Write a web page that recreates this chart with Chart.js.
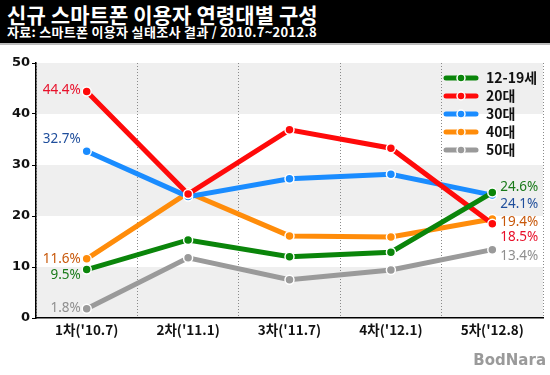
<!DOCTYPE html>
<html><head><meta charset="utf-8">
<script src="https://cdn.jsdelivr.net/npm/chart.js@4/dist/chart.umd.min.js"></script>
<style>
html,body{margin:0;padding:0;background:#fff;width:550px;height:375px;overflow:hidden;font-family:"Noto Sans CJK KR","Noto Sans",sans-serif;}
#hdr{position:absolute;left:0;top:0;width:550px;height:43px;background:#000;border-bottom:2px solid #bbb;}
#t1{position:absolute;left:7px;top:0px;color:#fff;font-weight:bold;font-size:21px;line-height:28px;letter-spacing:0.1px;}
#t2{position:absolute;left:7px;top:24px;color:#fff;font-weight:bold;font-size:13px;line-height:16px;letter-spacing:0.3px;}
#wrap{position:absolute;left:0;top:45px;width:550px;height:330px;}
#wm{position:absolute;right:4px;top:351px;color:#9a9a9a;font-family:"DejaVu Sans",sans-serif;font-weight:bold;font-size:15px;}
</style></head><body>
<div id="hdr"><div id="t1">신규 스마트폰 이용자 연령대별 구성</div><div id="t2">자료: 스마트폰 이용자 실태조사 결과 / 2010.7~2012.8</div></div>
<div id="wrap"><canvas id="c" width="550" height="330"></canvas></div>
<div id="wm">BodNara</div>
<script>
const categories = ["1차('10.7)", "2차('11.1)", "3차('11.7)", "4차('12.1)", "5차('12.8)"];
const seriesNames = ["12-19세", "20대", "30대", "40대", "50대"];
const teen = [9.5, 15.3, 12.0, 12.9, 24.6];
const twenties = [44.4, 24.3, 36.9, 33.3, 18.5];
const thirties = [32.7, 23.8, 27.3, 28.2, 24.1];
const forties = [11.6, 24.6, 16.1, 15.9, 19.4];
const fifties = [1.8, 11.8, 7.5, 9.4, 13.4];
const yTicks = [0, 10, 20, 30, 40, 50];

const lineColors = ["#0a850a", "#ff0a0a", "#1a8cff", "#ff8c0a", "#9a9a9a"];
const textColors = ["#1a7a1a", "#e8102a", "#1f4e9c", "#c8580a", "#8f8f8f"];
const allData = [teen, twenties, thirties, forties, fifties];
const leftDy = [5.5, -1.5, -12, 0, -1];
const rightDy = [-5.5, 14, 9, 3, 6];

const bands = {
  id: 'bands',
  beforeDraw(chart) {
    const {ctx, chartArea: a, scales: {y}} = chart;
    ctx.save();
    for (let i = 0; i < yTicks.length - 1; i++) {
      if (i % 2 === 0) {
        const top = y.getPixelForValue(yTicks[i + 1]);
        const bot = y.getPixelForValue(yTicks[i]);
        ctx.fillStyle = '#efefef';
        ctx.fillRect(a.left, top, a.right - a.left, bot - top);
      }
    }
    ctx.restore();
  }
};

const labelsPlugin = {
  id: 'vlabels',
  afterDatasetsDraw(chart) {
    const ctx = chart.ctx;
    ctx.save();
    ctx.font = '13.5px "Noto Sans", sans-serif';
    ctx.textBaseline = 'middle';
    chart.data.datasets.forEach((ds, i) => {
      const meta = chart.getDatasetMeta(i);
      const p0 = meta.data[0], pn = meta.data[meta.data.length - 1];
      ctx.fillStyle = textColors[i];
      ctx.textAlign = 'right';
      ctx.fillText(ds.data[0].toFixed(1) + '%', p0.x - 6, p0.y + leftDy[i]);
      ctx.textAlign = 'left';
      ctx.fillText(ds.data[ds.data.length - 1].toFixed(1) + '%', pn.x + 8, pn.y + rightDy[i]);
    });
    ctx.restore();
  }
};

const legendPlugin = {
  id: 'mylegend',
  afterDraw(chart) {
    const {ctx, chartArea: a} = chart;
    ctx.save();
    const x0 = a.right - 97, y0 = a.top + 15;
    seriesNames.forEach((n, i) => {
      const yy = y0 + i * 18;
      ctx.strokeStyle = lineColors[i];
      ctx.lineWidth = 5;
      ctx.lineCap = 'round';
      ctx.beginPath(); ctx.moveTo(x0, yy); ctx.lineTo(x0 + 30, yy); ctx.stroke();
      ctx.beginPath(); ctx.arc(x0 + 15, yy, 4, 0, Math.PI * 2);
      ctx.fillStyle = lineColors[i]; ctx.fill();
      ctx.lineWidth = 1.5; ctx.strokeStyle = '#fff'; ctx.stroke();
      ctx.fillStyle = '#111';
      ctx.font = 'bold 14px "Noto Sans CJK KR", sans-serif';
      ctx.textBaseline = 'middle'; ctx.textAlign = 'left';
      ctx.fillText(n, x0 + 40, yy);
    });
    ctx.restore();
  }
};

new Chart(document.getElementById('c'), {
  type: 'line',
  data: {
    labels: categories,
    datasets: allData.map((d, i) => ({
      label: seriesNames[i],
      data: d,
      borderColor: lineColors[i],
      backgroundColor: lineColors[i],
      borderWidth: 5,
      pointRadius: 4.5,
      pointBorderColor: '#fff',
      pointBorderWidth: 1.5,
      pointBackgroundColor: lineColors[i],
      tension: 0
    }))
  },
  options: {
    responsive: false,
    animation: false,
    devicePixelRatio: 1,
    layout: {padding: {left: 0, right: 7, top: 18, bottom: 0}},
    plugins: {legend: {display: false}, tooltip: {enabled: false}},
    scales: {
      x: {
        offset: true,
        grid: {display: true, offset: true, drawTicks: false, color: '#8a8a8a', lineWidth: 1},
        border: {display: true, color: '#000', width: 1.5, dash: [1, 2]},
        ticks: {color: '#111', font: {family: '"Noto Sans CJK KR", sans-serif', weight: 'bold', size: 13.5}, padding: 4},
        afterFit(s) { s.height = 57; }
      },
      y: {
        min: 0, max: 50,
        afterBuildTicks(s) { s.ticks = yTicks.map(v => ({value: v})); },
        grid: {display: true, drawOnChartArea: false, drawTicks: true, tickLength: 4, color: '#000'},
        border: {display: true, color: '#000', width: 1.5},
        ticks: {color: '#111', font: {family: '"DejaVu Sans", sans-serif', weight: 'bold', size: 13}, padding: 2},
        afterFit(s) { s.width = 36; }
      }
    }
  },
  plugins: [bands, labelsPlugin, legendPlugin]
});
</script>
</body></html>
